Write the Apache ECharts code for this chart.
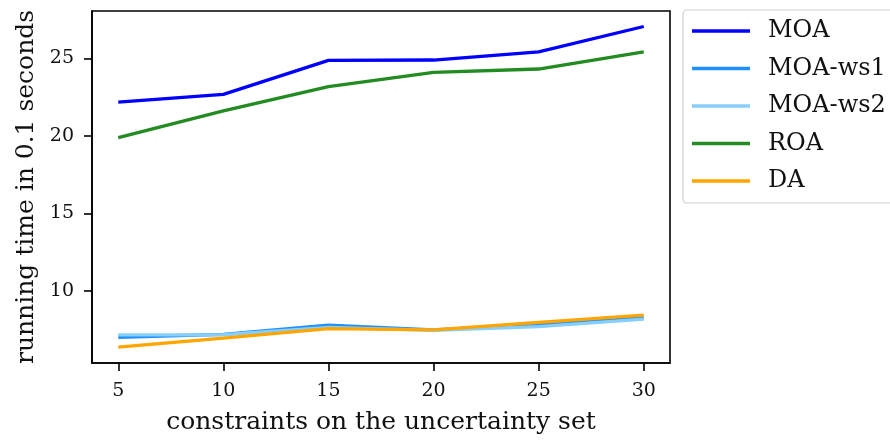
<!DOCTYPE html>
<html>
<head>
<meta charset="utf-8">
<script src="https://cdn.jsdelivr.net/npm/echarts@6/dist/echarts.min.js"></script>
<style>
  html, body { margin: 0; padding: 0; background: #fff; }
  #chart { width: 890px; height: 443px; }
</style>
</head>
<body>
<div id="chart"></div>
<script>
// Number of constraints on the uncertainty set
const constraints = [5, 10, 15, 20, 25, 30];

// Running time (in units of 0.1 s) per method
const moa    = [22.17, 22.68, 24.87, 24.89, 25.41, 27.05];
const moaWs1 = [7.02, 7.21, 7.80, 7.50, 7.85, 8.30];
const moaWs2 = [7.17, 7.18, 7.65, 7.46, 7.71, 8.19];
const roa    = [19.89, 21.61, 23.17, 24.10, 24.31, 25.41];
const da     = [6.39, 6.97, 7.57, 7.49, 7.98, 8.45];

const xTicks = [5, 10, 15, 20, 25, 30];
const yTicks = [10, 15, 20, 25];

const FONT = 'DejaVu Serif';

const seriesDefs = [
  { name: 'MOA', data: moa, color: '#0000ff' },
  { name: 'MOA-ws1', data: moaWs1, color: '#1e90ff' },
  { name: 'MOA-ws2', data: moaWs2, color: '#87cefa' },
  { name: 'ROA', data: roa, color: '#228b22' },
  { name: 'DA', data: da, color: '#ffa500' }
];

const chart = echarts.init(document.getElementById('chart'), null, { renderer: 'canvas' });

chart.setOption({
  animation: false,
  backgroundColor: '#ffffff',
  textStyle: { fontFamily: FONT },
  grid: {
    left: 92, right: 220, top: 11, bottom: 80,
    show: true, borderColor: '#000', borderWidth: 1.6, backgroundColor: 'transparent'
  },
  legend: {
    left: 683, top: 10,
    orient: 'vertical',
    icon: 'rect',
    itemWidth: 58, itemHeight: 3.5,
    itemGap: 13.5,
    padding: [9, 40, 10, 9],
    backgroundColor: '#fff',
    borderColor: '#d0d0d0', borderWidth: 1.2, borderRadius: 4,
    textStyle: { fontFamily: FONT, fontSize: 24, color: '#111', padding: [0, 0, 0, 13] },
    data: seriesDefs.map(s => s.name)
  },
  xAxis: {
    type: 'value',
    min: 3.75, max: 31.25,
    name: 'constraints on the uncertainty set',
    nameLocation: 'middle', nameGap: 47,
    nameTextStyle: { fontFamily: FONT, fontSize: 25, color: '#111' },
    axisLine: { show: true, lineStyle: { color: '#000', width: 1.6 } },
    axisTick: { show: true, length: 8, lineStyle: { color: '#000', width: 1.6 }, customValues: xTicks },
    axisLabel: { fontFamily: FONT, fontSize: 19, color: '#111', margin: 19, customValues: xTicks },
    splitLine: { show: false }
  },
  yAxis: {
    type: 'value',
    min: 5.36, max: 28.05,
    name: 'running time in 0.1 seconds',
    nameLocation: 'middle', nameGap: 53,
    nameTextStyle: { fontFamily: FONT, fontSize: 25, color: '#111' },
    axisLine: { show: true, lineStyle: { color: '#000', width: 1.6 } },
    axisTick: { show: true, length: 8, lineStyle: { color: '#000', width: 1.6 }, customValues: yTicks },
    axisLabel: { fontFamily: FONT, fontSize: 19, color: '#111', margin: 18, customValues: yTicks },
    splitLine: { show: false }
  },
  series: seriesDefs.map(s => ({
    name: s.name,
    type: 'line',
    data: constraints.map((c, i) => [c, s.data[i]]),
    showSymbol: false,
    symbol: 'none',
    lineStyle: { color: s.color, width: 3.3 },
    itemStyle: { color: s.color },
    emphasis: { disabled: true }
  }))
});
</script>
</body>
</html>
